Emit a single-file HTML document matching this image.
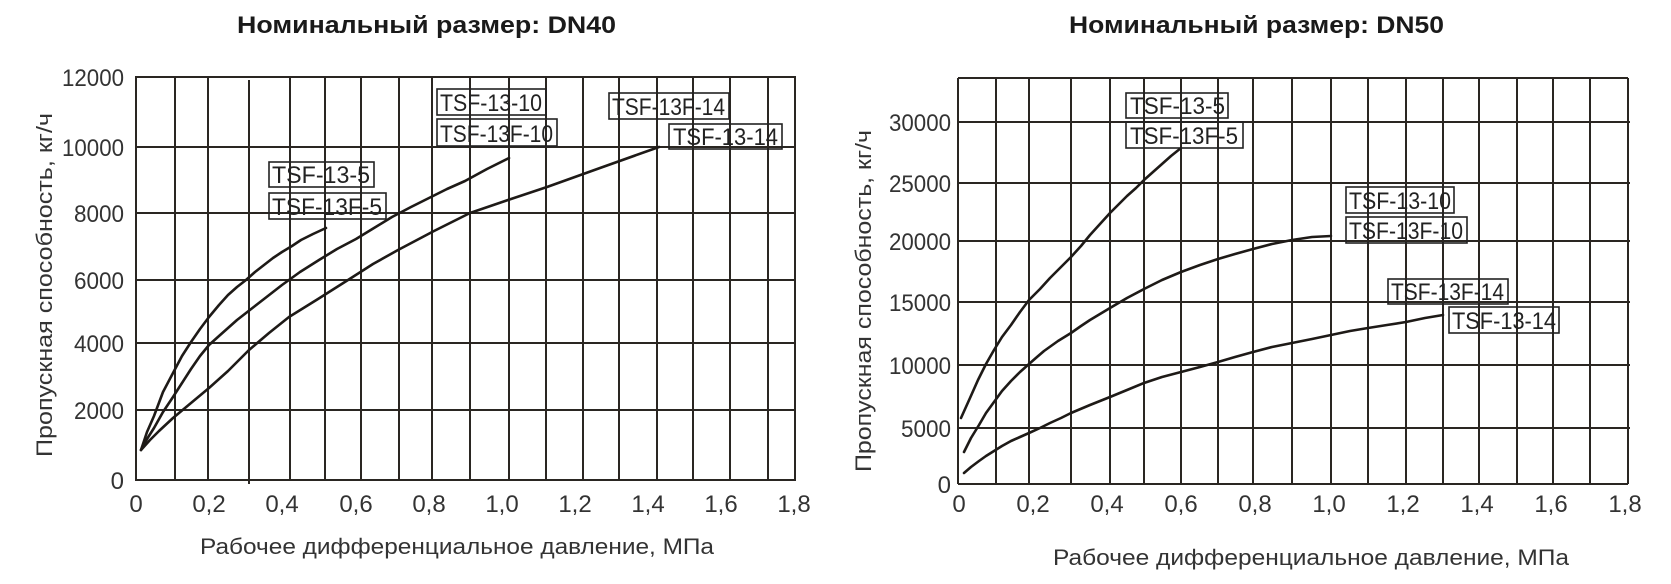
<!DOCTYPE html>
<html><head><meta charset="utf-8"><style>
html,body{margin:0;padding:0;background:#fff;}
svg{display:block;font-family:"Liberation Sans",sans-serif;}
</style></head><body>
<svg width="1671" height="584" viewBox="0 0 1671 584" xmlns="http://www.w3.org/2000/svg">
<g fill="#1a1a1a">
<text x="237" y="33" font-size="24" font-weight="bold" textLength="379" lengthAdjust="spacingAndGlyphs">Номинальный размер: DN40</text>
<text x="1069" y="33" font-size="24" font-weight="bold" textLength="375" lengthAdjust="spacingAndGlyphs">Номинальный размер: DN50</text>
</g>
<!-- LEFT GRID -->
<g stroke="#2a2622" stroke-width="2" fill="none">
<rect x="136" y="77" width="659" height="403"/>
<path d="M175 77V480M208 77V480M249 80V484M290 77V480M325 77V480M361 77V480M399 77V480M432 77V480M470 77V480M509 77V480M546 77V480M583 77V480M619 77V480M657 77V480M693 77V480M730 77V480M768 77V480"/>
<path d="M136 147H795M136 213H795M136 280H795M136 343H795M136 410H795"/>
</g>
<g fill="#333" font-size="24" text-anchor="end">
<text x="124" y="86" textLength="62" lengthAdjust="spacingAndGlyphs">12000</text>
<text x="124" y="156" textLength="62" lengthAdjust="spacingAndGlyphs">10000</text>
<text x="124" y="222" textLength="50" lengthAdjust="spacingAndGlyphs">8000</text>
<text x="124" y="289" textLength="50" lengthAdjust="spacingAndGlyphs">6000</text>
<text x="124" y="352" textLength="50" lengthAdjust="spacingAndGlyphs">4000</text>
<text x="124" y="419" textLength="50" lengthAdjust="spacingAndGlyphs">2000</text>
<text x="124" y="489">0</text>
</g>
<g fill="#333" font-size="24" text-anchor="middle">
<text x="136" y="512">0</text><text x="209" y="512">0,2</text><text x="282" y="512">0,4</text><text x="356" y="512">0,6</text><text x="429" y="512">0,8</text><text x="502" y="512">1,0</text><text x="575" y="512">1,2</text><text x="648" y="512">1,4</text><text x="721" y="512">1,6</text><text x="794" y="512">1,8</text>
</g>
<text x="200" y="554" font-size="22" fill="#333" textLength="514" lengthAdjust="spacingAndGlyphs">Рабочее дифференциальное давление, МПа</text>
<text transform="translate(52,457) rotate(-90)" font-size="22" fill="#333" textLength="344" lengthAdjust="spacingAndGlyphs">Пропускная способность, кг/ч</text>
<g stroke="#1e1a17" stroke-width="2.6" fill="none" stroke-linejoin="round" stroke-linecap="round">
<polyline points="141,450 147,432 154,416 163,392 173,373 182,356 191,342 200,329 209,317 219,305 228,295 237,287 246,280 255,272 264,265 273,258 282,252 292,246 301,240 313,234 326,228"/>
<polyline points="141,450 147,439 154,428 163,412 173,397 182,383 191,369 200,356 209,345 219,336 228,328 237,320 246,313 264,299 282,285 300,272 319,260 337,249 356,239 374,228 392,217 411,207 429,198 447,189 465,181 487,169 509,158"/>
<polyline points="141,450 150,440 159,431 173,418 191,403 209,388 228,371 249,350 269,333 289,317 318,299 348,280 373,264 398,250 434,231 470,213 508,200 547,187 600,168 659,147"/>
</g>
<g stroke="#222" stroke-width="1.6" fill="none">
<rect x="437" y="89" width="109" height="26"/>
<rect x="437" y="119" width="120" height="27"/>
<rect x="609" y="93" width="120" height="26"/>
<rect x="669" y="124" width="113" height="25"/>
<rect x="269" y="162" width="105" height="25"/>
<rect x="269" y="193" width="117" height="26"/>
</g>
<g fill="#222" font-size="24">
<text x="440" y="111" textLength="102" lengthAdjust="spacingAndGlyphs">TSF-13-10</text>
<text x="440" y="142" textLength="113" lengthAdjust="spacingAndGlyphs">TSF-13F-10</text>
<text x="612" y="115" textLength="113" lengthAdjust="spacingAndGlyphs">TSF-13F-14</text>
<text x="673" y="145" textLength="105" lengthAdjust="spacingAndGlyphs">TSF-13-14</text>
<text x="272" y="183" textLength="98" lengthAdjust="spacingAndGlyphs">TSF-13-5</text>
<text x="272" y="215" textLength="110" lengthAdjust="spacingAndGlyphs">TSF-13F-5</text>
</g>

<!-- RIGHT GRID -->
<g stroke="#2a2622" stroke-width="2" fill="none">
<path d="M958 78V484M958 484H1628M958 78H1628M1628 78V484"/>
<path d="M996 78V484M1029 78V484M1071 78V484M1110 78V484M1144 78V484M1181 78V484M1218 78V484M1253 78V484M1292 78V484M1331 78V484M1368 78V484M1406 78V484M1443 78V484M1479 78V484M1517 78V484M1553 78V484M1590 78V484"/>
<path d="M958 122H1630M958 183H1630M958 241H1630M958 302H1630M958 365H1630M958 428H1630"/>
</g>
<g fill="#333" font-size="24" text-anchor="end">
<text x="951" y="131" textLength="62" lengthAdjust="spacingAndGlyphs">30000</text>
<text x="951" y="192" textLength="62" lengthAdjust="spacingAndGlyphs">25000</text>
<text x="951" y="250" textLength="62" lengthAdjust="spacingAndGlyphs">20000</text>
<text x="951" y="311" textLength="62" lengthAdjust="spacingAndGlyphs">15000</text>
<text x="951" y="374" textLength="62" lengthAdjust="spacingAndGlyphs">10000</text>
<text x="951" y="437" textLength="50" lengthAdjust="spacingAndGlyphs">5000</text>
<text x="951" y="493">0</text>
</g>
<g fill="#333" font-size="24" text-anchor="middle">
<text x="959" y="512">0</text><text x="1033" y="512">0,2</text><text x="1107" y="512">0,4</text><text x="1181" y="512">0,6</text><text x="1255" y="512">0,8</text><text x="1329" y="512">1,0</text><text x="1403" y="512">1,2</text><text x="1477" y="512">1,4</text><text x="1551" y="512">1,6</text><text x="1625" y="512">1,8</text>
</g>
<text x="1053" y="565" font-size="22" fill="#333" textLength="516" lengthAdjust="spacingAndGlyphs">Рабочее дифференциальное давление, МПа</text>
<text transform="translate(871,472) rotate(-90)" font-size="22" fill="#333" textLength="342" lengthAdjust="spacingAndGlyphs">Пропускная способность, кг/ч</text>
<g stroke="#1e1a17" stroke-width="2.6" fill="none" stroke-linejoin="round" stroke-linecap="round">
<polyline points="961,418 970,398 978,380 986,364 994,350 1002,337 1011,325 1020,312 1029,300 1040,289 1050,278 1061,267 1071,257 1081,246 1090,235 1100,224 1110,213 1119,204 1127,196 1136,188 1144,180 1153,172 1162,164 1171,156 1181,148"/>
<polyline points="964,452 971,438 979,425 986,413 994,402 1002,391 1011,381 1020,372 1029,364 1037,357 1044,351 1058,341 1071,333 1081,326 1090,320 1100,314 1110,308 1127,298 1144,289 1162,280 1181,272 1200,265 1218,259 1235,254 1253,249 1272,244 1292,240 1312,237 1331,236"/>
<polyline points="964,473 971,467 979,461 986,456 994,451 1002,446 1011,441 1020,437 1029,433 1040,428 1050,423 1061,418 1071,413 1090,405 1110,397 1127,390 1144,383 1162,377 1181,372 1200,367 1218,362 1235,357 1253,352 1272,347 1292,343 1312,339 1331,335 1350,331 1368,328 1387,325 1406,322 1425,318 1443,315"/>
</g>
<g stroke="#222" stroke-width="1.6" fill="none">
<rect x="1126" y="93" width="102" height="25"/>
<rect x="1126" y="122" width="117" height="26"/>
<rect x="1346" y="187" width="108" height="26"/>
<rect x="1346" y="217" width="121" height="26"/>
<rect x="1388" y="279" width="120" height="25"/>
<rect x="1449" y="307" width="110" height="26"/>
</g>
<g fill="#222" font-size="24">
<text x="1130" y="114" textLength="95" lengthAdjust="spacingAndGlyphs">TSF-13-5</text>
<text x="1130" y="144" textLength="108" lengthAdjust="spacingAndGlyphs">TSF-13F-5</text>
<text x="1349" y="209" textLength="102" lengthAdjust="spacingAndGlyphs">TSF-13-10</text>
<text x="1349" y="239" textLength="114" lengthAdjust="spacingAndGlyphs">TSF-13F-10</text>
<text x="1391" y="300" textLength="113" lengthAdjust="spacingAndGlyphs">TSF-13F-14</text>
<text x="1452" y="329" textLength="104" lengthAdjust="spacingAndGlyphs">TSF-13-14</text>
</g>
</svg>
</body></html>
